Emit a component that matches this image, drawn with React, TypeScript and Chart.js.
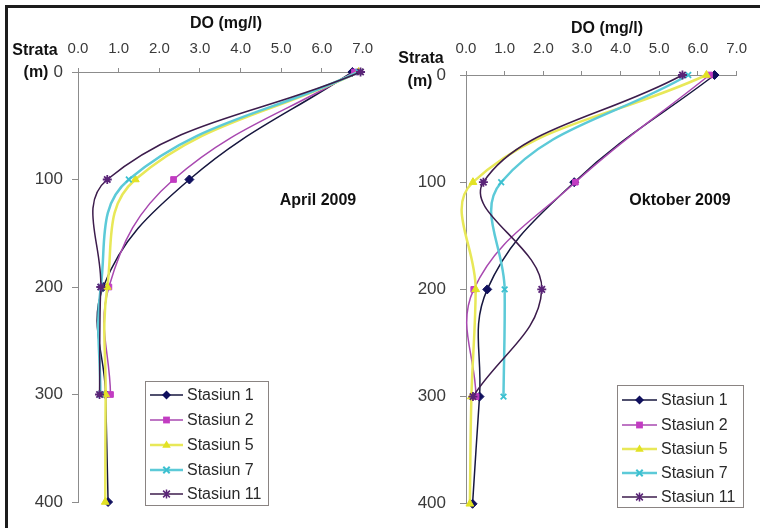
import React, { useEffect, useRef } from 'react';
import { Chart, registerables } from 'chart.js';

Chart.register(...registerables);

// Sampling depths (m) and the dissolved oxygen readings (mg/l) per station
const depths = [0, 100, 200, 300, 400];
const stations = ['Stasiun 1', 'Stasiun 2', 'Stasiun 5', 'Stasiun 7', 'Stasiun 11'];

const doTickLabels = ['0.0', '1.0', '2.0', '3.0', '4.0', '5.0', '6.0', '7.0'];
const depthTickLabels = ['0', '100', '200', '300', '400'];

// April 2009
const aprilS1 = [6.75, 2.74, 0.62, 0.68, 0.74];
const aprilS2 = [6.8, 2.35, 0.76, 0.8];
const aprilS5 = [6.9, 1.41, 0.72, 0.68, 0.67];
const aprilS7 = [6.9, 1.25, 0.56, 0.55];
const aprilS11 = [6.95, 0.72, 0.56, 0.53];

// Oktober 2009
const oktS1 = [6.43, 2.8, 0.55, 0.35, 0.17];
const oktS2 = [6.3, 2.83, 0.2, 0.26];
const oktS5 = [6.22, 0.18, 0.25, 0.14, 0.1];
const oktS7 = [5.75, 0.91, 1.0, 0.97];
const oktS11 = [5.6, 0.45, 1.96, 0.18];

type MarkerStyle = 'rectRot' | 'rect' | 'triangle' | 'crossRot' | 'star';

const seriesStyle: { line: string; point: string; width: number; marker: MarkerStyle; radius: number }[] = [
  { line: '#16163e', point: '#10105e', width: 1.5, marker: 'rectRot', radius: 4.5 },
  { line: '#a848b0', point: '#c23cc2', width: 1.5, marker: 'rect', radius: 4 },
  { line: '#e8e858', point: '#e2e224', width: 2.5, marker: 'triangle', radius: 4.5 },
  { line: '#5ccad8', point: '#3cc0d0', width: 2.5, marker: 'crossRot', radius: 4 },
  { line: '#3c1c4c', point: '#5a2478', width: 1.5, marker: 'star', radius: 4.5 },
];

const FONT = '"Liberation Sans", Arial, sans-serif';

function drawMarker(
  ctx: CanvasRenderingContext2D,
  style: MarkerStyle,
  x: number,
  y: number,
  r: number,
  color: string
) {
  ctx.save();
  ctx.fillStyle = color;
  ctx.strokeStyle = color;
  ctx.lineWidth = 1.5;
  ctx.beginPath();
  if (style === 'rectRot') {
    ctx.moveTo(x, y - r);
    ctx.lineTo(x + r, y);
    ctx.lineTo(x, y + r);
    ctx.lineTo(x - r, y);
    ctx.closePath();
    ctx.fill();
  } else if (style === 'rect') {
    const s = r * 0.85;
    ctx.rect(x - s, y - s, s * 2, s * 2);
    ctx.fill();
  } else if (style === 'triangle') {
    ctx.moveTo(x, y - r);
    ctx.lineTo(x + r * 0.95, y + r * 0.6);
    ctx.lineTo(x - r * 0.95, y + r * 0.6);
    ctx.closePath();
    ctx.fill();
  } else if (style === 'crossRot') {
    const s = r * 0.8;
    ctx.moveTo(x - s, y - s);
    ctx.lineTo(x + s, y + s);
    ctx.moveTo(x + s, y - s);
    ctx.lineTo(x - s, y + s);
    ctx.lineWidth = 2;
    ctx.stroke();
  } else {
    const s = r * 0.75;
    ctx.moveTo(x - s, y - s);
    ctx.lineTo(x + s, y + s);
    ctx.moveTo(x + s, y - s);
    ctx.lineTo(x - s, y + s);
    ctx.moveTo(x, y - r);
    ctx.lineTo(x, y + r);
    ctx.stroke();
  }
  ctx.restore();
}

type LegendBox = {
  x: number;
  y: number;
  w: number;
  h: number;
  rows: number[];
  lineX0: number;
  lineX1: number;
  textX: number;
};

type PanelSpec = {
  left: number;
  width: number;
  yAxisWidth: number;
  xAxisHeight: number;
  padRight: number;
  padBottom: number;
  xTickPad: number;
  yTickPad: number;
  legend: LegendBox;
  values: number[][];
};

const boxLegendPlugin = {
  id: 'boxLegend',
  afterDraw(chart: any, _args: any, opts: any) {
    const box: LegendBox = opts.box;
    if (!box) return;
    const ctx: CanvasRenderingContext2D = chart.ctx;
    ctx.save();
    ctx.fillStyle = '#ffffff';
    ctx.fillRect(box.x, box.y, box.w, box.h);
    ctx.strokeStyle = '#8a8482';
    ctx.lineWidth = 1;
    ctx.strokeRect(box.x + 0.5, box.y + 0.5, box.w, box.h);
    ctx.font = `16px ${FONT}`;
    ctx.textBaseline = 'middle';
    ctx.textAlign = 'left';
    stations.forEach((name, i) => {
      const st = seriesStyle[i];
      const y = box.rows[i];
      ctx.strokeStyle = st.line;
      ctx.lineWidth = st.width;
      ctx.beginPath();
      ctx.moveTo(box.lineX0, y);
      ctx.lineTo(box.lineX1, y);
      ctx.stroke();
      drawMarker(ctx, st.marker, (box.lineX0 + box.lineX1) / 2, y, st.radius, st.point);
      ctx.fillStyle = '#2a2a2a';
      ctx.fillText(name, box.textX, y + 1);
    });
    ctx.restore();
  },
};

function DepthPanel({ spec }: { spec: PanelSpec }) {
  const ref = useRef<HTMLCanvasElement | null>(null);

  useEffect(() => {
    if (!ref.current) return;
    const datasets = spec.values.map((vals, i) => {
      const st = seriesStyle[i];
      return {
        label: stations[i],
        data: vals.map((v, k) => ({ x: v, y: depths[k] })),
        showLine: true,
        borderColor: st.line,
        borderWidth: st.width,
        backgroundColor: st.point,
        pointBackgroundColor: st.point,
        pointBorderColor: st.point,
        pointBorderWidth: st.marker === 'crossRot' || st.marker === 'star' ? 1.8 : 1,
        pointStyle: st.marker,
        pointRadius: st.radius,
        tension: 0.4,
        clip: false as any,
        order: stations.length - i,
      };
    });

    const chart = new Chart(ref.current, {
      type: 'scatter',
      data: { datasets },
      plugins: [boxLegendPlugin],
      options: {
        animation: false,
        responsive: false,
        events: [],
        layout: {
          padding: { left: 0, top: 0, right: spec.padRight, bottom: spec.padBottom },
        },
        elements: {
          line: { capBezierPoints: false },
        },
        plugins: {
          legend: { display: false },
          tooltip: { enabled: false },
          boxLegend: { box: spec.legend },
        } as any,
        scales: {
          x: {
            type: 'linear',
            position: 'top',
            min: 0,
            max: 7,
            afterFit: (s: any) => {
              s.height = spec.xAxisHeight;
            },
            ticks: {
              stepSize: 1,
              padding: spec.xTickPad,
              color: '#3a3a3a',
              font: { family: FONT, size: 15 },
              callback: (v: any) => doTickLabels[Math.round(Number(v))] ?? '',
            },
            grid: {
              display: true,
              drawOnChartArea: false,
              drawTicks: true,
              tickLength: 4,
              color: '#8c8c8c',
            },
            border: { display: true, color: '#8c8c8c', width: 1 },
          },
          y: {
            type: 'linear',
            reverse: true,
            min: 0,
            max: 400,
            afterFit: (s: any) => {
              s.width = spec.yAxisWidth;
            },
            ticks: {
              stepSize: 100,
              padding: spec.yTickPad,
              color: '#3a3a3a',
              font: { family: FONT, size: 17 },
              callback: (v: any) => depthTickLabels[Math.round(Number(v) / 100)] ?? '',
            },
            grid: {
              display: true,
              drawOnChartArea: false,
              drawTicks: true,
              tickLength: 6,
              color: '#8c8c8c',
            },
            border: { display: true, color: '#8c8c8c', width: 1 },
          },
        },
      },
    });
    return () => chart.destroy();
  }, [spec]);

  return (
    <canvas
      ref={ref}
      width={spec.width}
      height={528}
      style={{ position: 'absolute', left: spec.left, top: 0, width: spec.width, height: 528 }}
    />
  );
}

const aprilPanel: PanelSpec = {
  left: 0,
  width: 383,
  yAxisWidth: 78,
  xAxisHeight: 72,
  padRight: 12,
  padBottom: 26,
  xTickPad: 10,
  yTickPad: 9,
  legend: { x: 145, y: 381, w: 123, h: 124, rows: [395, 420, 445, 470, 494], lineX0: 150, lineX1: 183, textX: 187 },
  values: [aprilS1, aprilS2, aprilS5, aprilS7, aprilS11],
};

const oktoberPanel: PanelSpec = {
  left: 380,
  width: 380,
  yAxisWidth: 86,
  xAxisHeight: 75,
  padRight: 12,
  padBottom: 23,
  xTickPad: 13,
  yTickPad: 14,
  legend: { x: 237, y: 385, w: 126, h: 122, rows: [400, 425, 449, 473, 497], lineX0: 242, lineX1: 277, textX: 281 },
  values: [oktS1, oktS2, oktS5, oktS7, oktS11],
};

function Label({ x, y, text, size, bold, family }: { x: number; y: number; text: string; size: number; bold?: boolean; family?: string }) {
  return (
    <div
      style={{
        position: 'absolute',
        left: x,
        top: y,
        transform: 'translate(-50%, -50%)',
        whiteSpace: 'nowrap',
        fontFamily: family ?? FONT,
        fontSize: size,
        fontWeight: bold ? 700 : 400,
        lineHeight: 1,
        color: '#111',
      }}
    >
      {text}
    </div>
  );
}

export default function App() {
  return (
    <div style={{ position: 'absolute', left: 0, top: 0, width: 760, height: 528, background: '#fff', overflow: 'hidden' }}>
      <div
        style={{
          position: 'absolute',
          left: 5,
          top: 5,
          width: 760,
          height: 528,
          borderTop: '3px solid #1c1c1c',
          borderLeft: '3px solid #1c1c1c',
        }}
      />
      <DepthPanel spec={aprilPanel} />
      <DepthPanel spec={oktoberPanel} />
      <Label x={226} y={23} text="DO (mg/l)" size={16} bold />
      <Label x={607} y={28} text="DO (mg/l)" size={16} bold />
      <Label x={35} y={50} text="Strata" size={16} bold />
      <Label x={36} y={72} text="(m)" size={16} bold />
      <Label x={421} y={58} text="Strata" size={16} bold />
      <Label x={420} y={81} text="(m)" size={16} bold />
      <Label x={318} y={200} text="April 2009" size={16} bold />
      <Label x={680} y={200} text="Oktober 2009" size={16} bold />
    </div>
  );
}
